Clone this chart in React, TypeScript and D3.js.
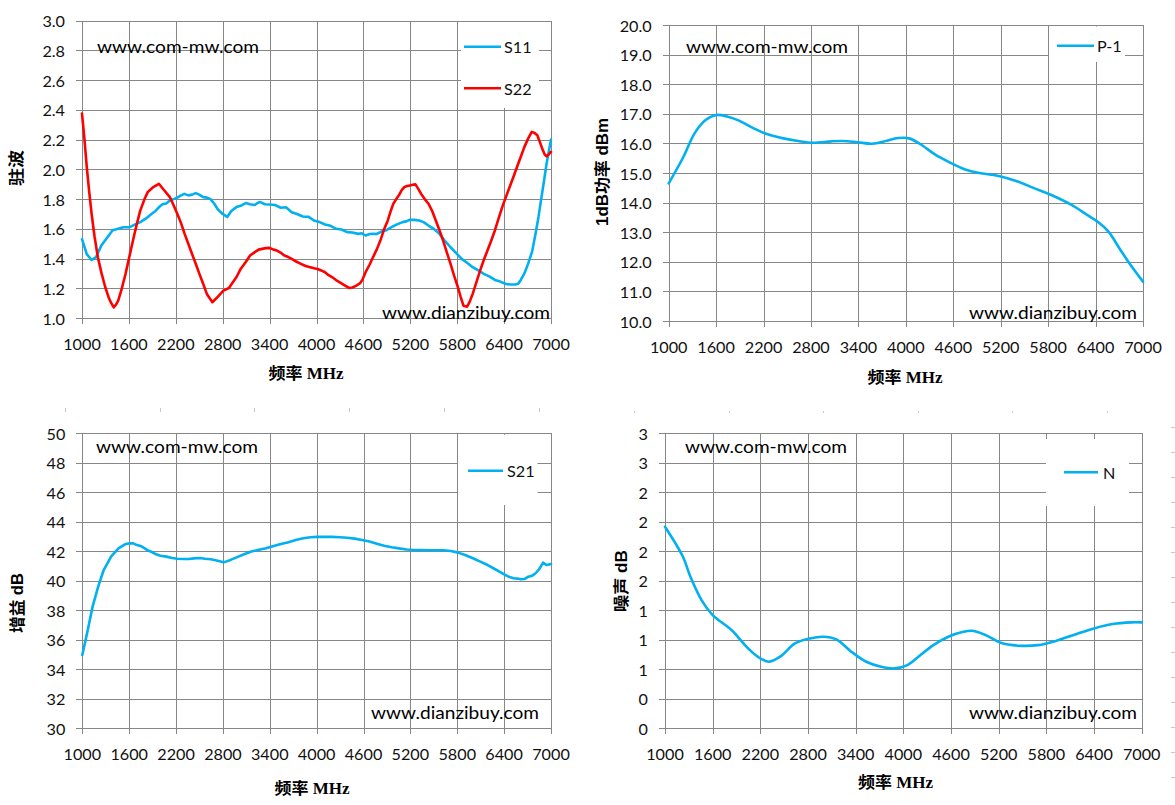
import React, { useEffect, useRef } from 'react';
import * as d3 from 'd3';

const svgWidth = 1175;
const svgHeight = 805;
const gridColor = '#878787';
const blue = '#00b0f0';
const red = '#ff0000';

// 频率刻度 (MHz)
const freqTicks = [1000, 1600, 2200, 2800, 3400, 4000, 4600, 5200, 5800, 6400, 7000];

// y 轴刻度标签
const vswrTickLabels = ['1.0', '1.2', '1.4', '1.6', '1.8', '2.0', '2.2', '2.4', '2.6', '2.8', '3.0'];
const powerTickLabels = ['10.0', '11.0', '12.0', '13.0', '14.0', '15.0', '16.0', '17.0', '18.0', '19.0', '20.0'];
const gainTickLabels = ['30', '32', '34', '36', '38', '40', '42', '44', '46', '48', '50'];
const noiseTickLabels = ['0', '0', '1', '1', '1', '2', '2', '2', '2', '3', '3'];

// S11 驻波
const s11Freq = [1000, 1061, 1123, 1180, 1250, 1321, 1392, 1463, 1530, 1605, 1680, 1746, 1820, 1888, 1940, 1983, 2030, 2077, 2125, 2172, 2220, 2266, 2310, 2361, 2410, 2455, 2500, 2550, 2600, 2644, 2690, 2739, 2800, 2857, 2910, 2975, 3030, 3093, 3150, 3211, 3250, 3282, 3340, 3400, 3470, 3542, 3610, 3683, 3750, 3825, 3900, 3967, 4040, 4109, 4180, 4250, 4320, 4392, 4460, 4534, 4580, 4628, 4680, 4723, 4770, 4817, 4890, 4959, 5030, 5101, 5150, 5195, 5250, 5313, 5370, 5432, 5500, 5573, 5640, 5715, 5790, 5857, 5930, 5998, 6070, 6140, 6210, 6282, 6350, 6424, 6480, 6542, 6580, 6613, 6660, 6707, 6760, 6802, 6840, 6872, 6910, 6943, 7000];
const s11Values = [1.53, 1.43, 1.39, 1.41, 1.49, 1.54, 1.59, 1.60, 1.61, 1.61, 1.63, 1.645, 1.67, 1.70, 1.72, 1.745, 1.765, 1.77, 1.79, 1.80, 1.81, 1.825, 1.835, 1.825, 1.83, 1.84, 1.83, 1.813, 1.81, 1.80, 1.77, 1.73, 1.70, 1.68, 1.72, 1.746, 1.755, 1.773, 1.765, 1.76, 1.775, 1.78, 1.765, 1.764, 1.76, 1.742, 1.745, 1.712, 1.70, 1.683, 1.68, 1.656, 1.645, 1.629, 1.62, 1.60, 1.595, 1.578, 1.575, 1.566, 1.57, 1.555, 1.565, 1.566, 1.565, 1.578, 1.59, 1.611, 1.63, 1.645, 1.65, 1.661, 1.66, 1.656, 1.645, 1.622, 1.60, 1.566, 1.52, 1.476, 1.435, 1.398, 1.37, 1.342, 1.32, 1.297, 1.28, 1.256, 1.245, 1.229, 1.225, 1.225, 1.23, 1.256, 1.30, 1.364, 1.45, 1.566, 1.68, 1.791, 1.92, 2.038, 2.20];

// S22 驻波
const s22Freq = [1000, 1030, 1061, 1092, 1123, 1160, 1203, 1250, 1298, 1340, 1368, 1406, 1435, 1463, 1510, 1557, 1605, 1652, 1700, 1746, 1800, 1841, 1912, 1983, 2054, 2124, 2170, 2219, 2266, 2313, 2360, 2408, 2455, 2502, 2550, 2597, 2668, 2739, 2809, 2880, 2930, 2975, 3030, 3093, 3150, 3211, 3260, 3305, 3350, 3400, 3450, 3494, 3540, 3589, 3640, 3683, 3740, 3801, 3860, 3920, 3970, 4014, 4060, 4109, 4150, 4203, 4250, 4298, 4360, 4416, 4460, 4510, 4558, 4590, 4628, 4680, 4723, 4770, 4817, 4860, 4912, 4950, 4983, 5020, 5054, 5090, 5124, 5160, 5195, 5230, 5266, 5300, 5337, 5385, 5432, 5480, 5526, 5573, 5620, 5668, 5715, 5760, 5809, 5845, 5880, 5927, 5960, 5998, 6045, 6093, 6140, 6187, 6235, 6282, 6330, 6376, 6420, 6471, 6520, 6565, 6610, 6660, 6710, 6754, 6790, 6825, 6860, 6896, 6920, 6943, 6970, 7000];
const s22Values = [2.375, 2.21, 2.016, 1.85, 1.701, 1.55, 1.409, 1.30, 1.207, 1.14, 1.106, 1.072, 1.09, 1.117, 1.20, 1.297, 1.41, 1.521, 1.63, 1.724, 1.80, 1.847, 1.881, 1.903, 1.858, 1.813, 1.76, 1.701, 1.64, 1.566, 1.50, 1.431, 1.365, 1.297, 1.23, 1.162, 1.106, 1.144, 1.184, 1.202, 1.24, 1.274, 1.33, 1.375, 1.42, 1.443, 1.46, 1.465, 1.47, 1.472, 1.46, 1.454, 1.44, 1.42, 1.41, 1.398, 1.38, 1.364, 1.35, 1.342, 1.335, 1.33, 1.32, 1.308, 1.29, 1.274, 1.255, 1.24, 1.22, 1.202, 1.205, 1.218, 1.234, 1.26, 1.308, 1.36, 1.409, 1.46, 1.521, 1.59, 1.656, 1.72, 1.769, 1.80, 1.825, 1.86, 1.881, 1.888, 1.892, 1.896, 1.899, 1.87, 1.836, 1.80, 1.769, 1.72, 1.656, 1.59, 1.521, 1.44, 1.364, 1.285, 1.207, 1.14, 1.083, 1.076, 1.11, 1.162, 1.24, 1.319, 1.39, 1.454, 1.52, 1.589, 1.67, 1.746, 1.81, 1.881, 1.95, 2.016, 2.08, 2.151, 2.21, 2.252, 2.245, 2.229, 2.18, 2.128, 2.10, 2.088, 2.10, 2.117];

// 1dB 功率
const p1Freq = [1000, 1187, 1327, 1467, 1608, 1748, 1889, 2076, 2216, 2450, 2637, 2824, 3058, 3199, 3386, 3573, 3760, 3900, 4040, 4180, 4367, 4554, 4741, 4928, 5161, 5395, 5629, 5862, 6096, 6283, 6423, 6563, 6703, 6843, 7000];
const p1Values = [14.65, 15.55, 16.34, 16.79, 16.96, 16.90, 16.77, 16.51, 16.34, 16.17, 16.08, 16.02, 16.07, 16.08, 16.04, 15.99, 16.09, 16.18, 16.17, 15.98, 15.63, 15.36, 15.13, 15.00, 14.91, 14.73, 14.48, 14.23, 13.92, 13.60, 13.36, 13.02, 12.45, 11.89, 11.33];

// S21 增益
const s21Freq = [1000, 1061, 1132, 1203, 1274, 1368, 1463, 1557, 1610, 1652, 1700, 1746, 1800, 1841, 1890, 1935, 2000, 2077, 2150, 2219, 2290, 2361, 2430, 2502, 2570, 2644, 2720, 2809, 2890, 2975, 3070, 3164, 3260, 3353, 3450, 3542, 3640, 3731, 3830, 3920, 4010, 4109, 4200, 4298, 4390, 4487, 4580, 4676, 4770, 4865, 4960, 5054, 5150, 5243, 5340, 5432, 5530, 5621, 5720, 5811, 5900, 6000, 6095, 6189, 6280, 6378, 6450, 6520, 6570, 6614, 6660, 6709, 6760, 6803, 6850, 6898, 6920, 6945, 6970, 7000];
const s21Values = [34.97, 36.44, 38.25, 39.60, 40.73, 41.64, 42.20, 42.50, 42.55, 42.54, 42.42, 42.36, 42.20, 42.05, 41.95, 41.82, 41.70, 41.64, 41.55, 41.50, 41.48, 41.48, 41.52, 41.55, 41.50, 41.46, 41.38, 41.25, 41.40, 41.59, 41.80, 41.98, 42.10, 42.20, 42.36, 42.50, 42.62, 42.77, 42.88, 42.95, 42.98, 42.99, 42.98, 42.95, 42.92, 42.86, 42.76, 42.66, 42.52, 42.38, 42.28, 42.20, 42.12, 42.09, 42.08, 42.07, 42.07, 42.07, 42.02, 41.91, 41.75, 41.53, 41.30, 41.07, 40.80, 40.51, 40.30, 40.17, 40.15, 40.10, 40.12, 40.28, 40.35, 40.51, 40.80, 41.23, 41.15, 41.07, 41.10, 41.14];

// 噪声
const noiseFreq = [1000, 1226, 1320, 1460, 1600, 1837, 2025, 2167, 2307, 2448, 2636, 2825, 2990, 3156, 3345, 3533, 3721, 3886, 4050, 4190, 4378, 4566, 4754, 4871, 5036, 5224, 5459, 5693, 5928, 6163, 6398, 6633, 6868, 7000];
const noiseValues = [2.05, 1.744, 1.541, 1.304, 1.151, 0.999, 0.83, 0.728, 0.677, 0.728, 0.863, 0.914, 0.931, 0.904, 0.779, 0.677, 0.626, 0.609, 0.643, 0.728, 0.846, 0.931, 0.982, 0.992, 0.948, 0.87, 0.84, 0.846, 0.891, 0.955, 1.016, 1.06, 1.077, 1.077];

type Series = { name: string; color: string; freq: number[]; values: number[]; smooth: boolean };
type Panel = {
  left: number; right: number; top: number; bottom: number;
  yDomain: [number, number];
  yTickLabels: string[];
  series: Series[];
  legend: { x0: number; x1: number; y0: number; y1: number; lineX0: number; lineX1: number; textX: number; rowY: number[] };
  yTitle: { text: string; x: number; y: number; serif: boolean; len: number };
  xTitle: { x: number; y: number };
  mark1: { x: number; y: number };
  mark2: { x: number; y: number };
};

const panels: Panel[] = [
  {
    left: 82, right: 551, top: 20.7, bottom: 318,
    yDomain: [1, 3], yTickLabels: vswrTickLabels,
    series: [
      { name: 'S11', color: blue, freq: s11Freq, values: s11Values, smooth: false },
      { name: 'S22', color: red, freq: s22Freq, values: s22Values, smooth: false },
    ],
    legend: { x0: 461, x1: 539, y0: 22, y1: 108, lineX0: 464, lineX1: 501, textX: 504, rowY: [46.7, 88.3] },
    yTitle: { text: '驻波', x: 16, y: 168, serif: true, len: 36 },
    xTitle: { x: 306, y: 373 },
    mark1: { x: 97, y: 46 },
    mark2: { x: 382, y: 312 },
  },
  {
    left: 668.7, right: 1143, top: 25, bottom: 321,
    yDomain: [10, 20], yTickLabels: powerTickLabels,
    series: [{ name: 'P-1', color: blue, freq: p1Freq, values: p1Values, smooth: true }],
    legend: { x0: 1049, x1: 1125, y0: 26.5, y1: 62, lineX0: 1057, lineX1: 1094, textX: 1097, rowY: [45.7] },
    yTitle: { text: '1dB功率 dBm', x: 602, y: 172, serif: false, len: 108 },
    xTitle: { x: 905, y: 377 },
    mark1: { x: 686, y: 46 },
    mark2: { x: 969, y: 312 },
  },
  {
    left: 82.3, right: 551, top: 433.3, bottom: 728.3,
    yDomain: [30, 50], yTickLabels: gainTickLabels,
    series: [{ name: 'S21', color: blue, freq: s21Freq, values: s21Values, smooth: false }],
    legend: { x0: 458, x1: 537.5, y0: 434.8, y1: 505, lineX0: 468, lineX1: 503, textX: 507, rowY: [470.7] },
    yTitle: { text: '增益 dB', x: 17, y: 603, serif: false, len: 60 },
    xTitle: { x: 312, y: 788 },
    mark1: { x: 96, y: 446.7 },
    mark2: { x: 371, y: 712.7 },
  },
  {
    left: 665, right: 1141.7, top: 433.3, bottom: 728.3,
    yDomain: [0, 3], yTickLabels: noiseTickLabels,
    series: [{ name: 'N', color: blue, freq: noiseFreq, values: noiseValues, smooth: true }],
    legend: { x0: 1046, x1: 1129, y0: 439, y1: 506, lineX0: 1064, lineX1: 1098, textX: 1103, rowY: [472.3] },
    yTitle: { text: '噪声 dB', x: 621.5, y: 581, serif: false, len: 62 },
    xTitle: { x: 895.5, y: 782 },
    mark1: { x: 685, y: 446.7 },
    mark2: { x: 969, y: 712.7 },
  },
];

const tickFont = 'Lato, "Open Sans", sans-serif';
const tickSize = 16.2;
const cjkSans = '"Liberation Sans", Arial, "Noto Sans CJK SC", sans-serif';
const cjkSerif = '"Liberation Serif", "Noto Sans CJK SC", serif';
const px = (v: number) => Math.round(v) + 0.5;

const App: React.FC = () => {
  const svgRef = useRef<SVGSVGElement | null>(null);

  useEffect(() => {
    const svg = d3.select(svgRef.current);
    svg.selectAll('*').remove();

    svg.append('rect').attr('width', svgWidth).attr('height', svgHeight).attr('fill', '#fff');

    panels.forEach((p) => {
      const x = d3.scaleLinear().domain([1000, 7000]).range([p.left, p.right]);
      const y = d3.scaleLinear().domain(p.yDomain).range([p.bottom, p.top]);
      const n = p.yTickLabels.length - 1;
      const yTicks = p.yTickLabels.map((_, i) => p.yDomain[0] + (i * (p.yDomain[1] - p.yDomain[0])) / n);

      const g = svg.append('g');

      // 网格线
      g.append('g')
        .selectAll('line')
        .data(yTicks)
        .join('line')
        .attr('x1', p.left - 6)
        .attr('x2', px(p.right))
        .attr('y1', (d) => px(y(d)))
        .attr('y2', (d) => px(y(d)))
        .attr('stroke', gridColor)
        .attr('shape-rendering', 'crispEdges');
      g.append('g')
        .selectAll('line')
        .data(freqTicks)
        .join('line')
        .attr('x1', (d) => px(x(d)))
        .attr('x2', (d) => px(x(d)))
        .attr('y1', px(p.top))
        .attr('y2', p.bottom + 6)
        .attr('stroke', gridColor)
        .attr('shape-rendering', 'crispEdges');

      // 刻度标签
      g.append('g')
        .selectAll('text')
        .data(yTicks)
        .join('text')
        .attr('x', p.left - 17)
        .attr('y', (d) => y(d))
        .attr('text-anchor', 'end')
        .attr('dominant-baseline', 'central')
        .attr('font-family', tickFont)
        .attr('font-size', tickSize)
        .attr('fill', '#111')
        .text((_, i) => p.yTickLabels[i]);
      g.append('g')
        .selectAll('text')
        .data(freqTicks)
        .join('text')
        .attr('x', (d) => x(d))
        .attr('y', p.bottom + 25)
        .attr('text-anchor', 'middle')
        .attr('dominant-baseline', 'central')
        .attr('font-family', tickFont)
        .attr('font-size', tickSize)
        .attr('fill', '#111')
        .text((d) => String(d));

      // 水印
      g.append('text')
        .attr('x', p.mark1.x)
        .attr('y', p.mark1.y)
        .attr('dominant-baseline', 'central')
        .attr('font-family', tickFont)
        .attr('font-size', 17)
        .attr('textLength', 162)
        .attr('lengthAdjust', 'spacingAndGlyphs')
        .text('www.com-mw.com');
      g.append('text')
        .attr('x', p.mark2.x)
        .attr('y', p.mark2.y)
        .attr('dominant-baseline', 'central')
        .attr('font-family', tickFont)
        .attr('font-size', 17)
        .attr('textLength', 168)
        .attr('lengthAdjust', 'spacingAndGlyphs')
        .text('www.dianzibuy.com');

      // 曲线
      p.series.forEach((s) => {
        const line = d3
          .line<number>()
          .x((_, i) => x(s.freq[i]))
          .y((d) => y(d))
          .curve(s.smooth ? d3.curveCatmullRom.alpha(0.5) : d3.curveLinear);
        g.append('path')
          .datum(s.values)
          .attr('d', line)
          .attr('fill', 'none')
          .attr('stroke', s.color)
          .attr('stroke-width', 2.6)
          .attr('stroke-linejoin', 'round')
          .attr('stroke-linecap', 'round');
      });

      // 图例
      const lg = p.legend;
      g.append('rect')
        .attr('x', lg.x0)
        .attr('y', lg.y0)
        .attr('width', lg.x1 - lg.x0)
        .attr('height', lg.y1 - lg.y0)
        .attr('fill', '#fff');
      p.series.forEach((s, i) => {
        g.append('line')
          .attr('x1', lg.lineX0)
          .attr('x2', lg.lineX1)
          .attr('y1', lg.rowY[i])
          .attr('y2', lg.rowY[i])
          .attr('stroke', s.color)
          .attr('stroke-width', 2.6);
        g.append('text')
          .attr('x', lg.textX)
          .attr('y', lg.rowY[i])
          .attr('dominant-baseline', 'central')
          .attr('font-family', tickFont)
          .attr('font-size', tickSize)
          .attr('fill', '#111')
          .text(s.name);
      });

      // 坐标轴标题
      g.append('text')
        .attr('transform', `translate(${p.yTitle.x},${p.yTitle.y}) rotate(-90)`)
        .attr('text-anchor', 'middle')
        .attr('dominant-baseline', 'central')
        .attr('font-family', p.yTitle.serif ? cjkSerif : cjkSans)
        .attr('font-weight', 'bold')
        .attr('font-size', 16)
        .attr('textLength', p.yTitle.len)
        .attr('lengthAdjust', 'spacingAndGlyphs')
        .text(p.yTitle.text);
      g.append('text')
        .attr('x', p.xTitle.x)
        .attr('y', p.xTitle.y)
        .attr('text-anchor', 'middle')
        .attr('dominant-baseline', 'central')
        .attr('font-family', cjkSerif)
        .attr('font-weight', 'bold')
        .attr('font-size', 16)
        .attr('textLength', 75)
        .attr('lengthAdjust', 'spacingAndGlyphs')
        .text('频率  MHz');
    });

    // 表格边缘的浅色小刻度
    const stubs = svg.append('g').attr('stroke', '#c8c8c8').attr('shape-rendering', 'crispEdges');
    d3.range(6).forEach((i) => {
      const sx = px(64.6 + i * 94.9);
      stubs.append('line').attr('x1', sx).attr('x2', sx).attr('y1', 408).attr('y2', 412);
    });
    d3.range(6).forEach((i) => {
      const sx = px(634 + i * 94.6);
      stubs.append('line').attr('x1', sx).attr('x2', sx).attr('y1', 411).attr('y2', 413);
    });
    d3.range(15).forEach((i) => {
      const sy = px(427 + i * 25);
      stubs.append('line').attr('x1', 1171).attr('x2', 1175).attr('y1', sy).attr('y2', sy);
    });
  }, []);

  return (
    <svg
      ref={svgRef}
      width={svgWidth}
      height={svgHeight}
      style={{ position: 'absolute', left: 0, top: 0 }}
    />
  );
};

export default App;
